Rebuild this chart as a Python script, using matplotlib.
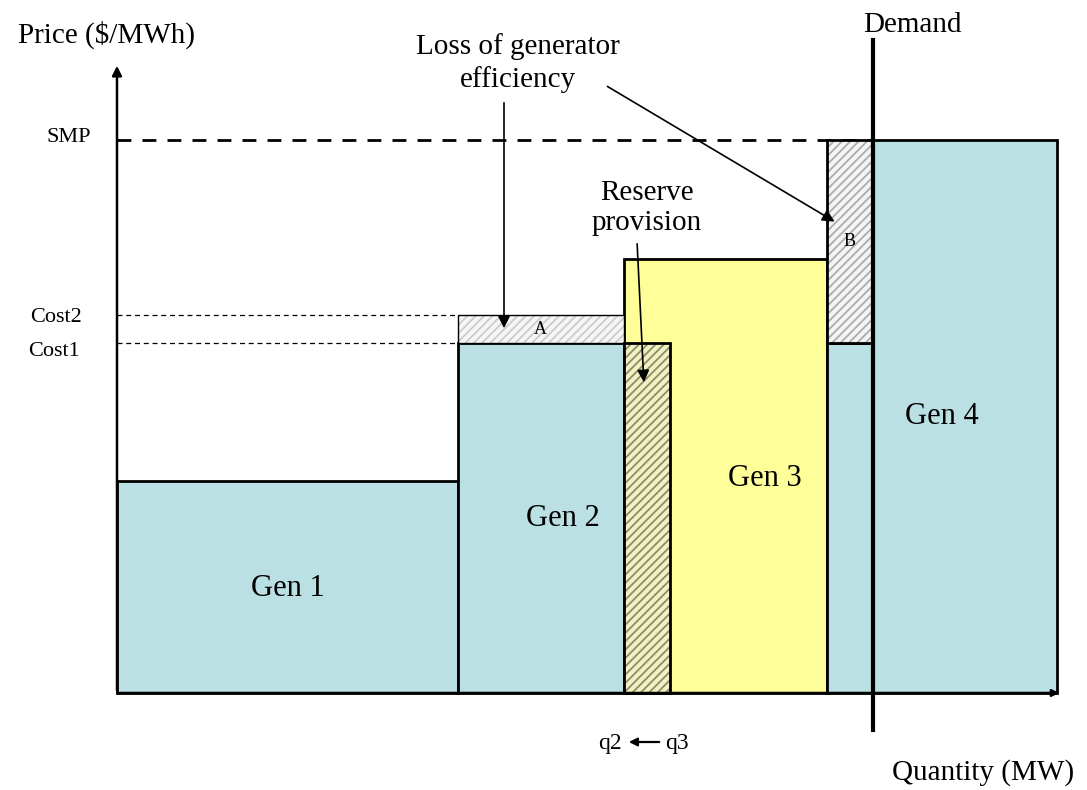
# Supply stack diagram: reserve provision and loss of generator efficiency
import matplotlib.pyplot as plt
from matplotlib.patches import Rectangle

plt.rcParams['font.family'] = ['Liberation Serif', 'DejaVu Serif']
plt.rcParams['hatch.linewidth'] = 1.3

# ── Data (quantity in MW-units, price in $/MWh-units of the diagram) ──────────
gen_names  = ["Gen 1", "Gen 2", "Gen 3", "Gen 4"]
gen_q0     = [0, 341, 507, 756]
gen_q1     = [341, 507, 710, 940]
gen_price  = [212, 350, 434, 553]
gen_colors = ["#bae0e3", "#bae0e3", "#ffff99", "#bae0e3"]

# Gen 4 dispatched below demand at Cost1 level
gen4_low_q  = [710, 756]
cost1       = 350
cost2       = 378
smp         = 553
demand_q    = 756

# hatched areas: (q0, q1, p0, p1)
area_A        = [341, 507, 350, 378]
area_B        = [710, 756, 350, 553]
area_reserve  = [507, 553, 0, 350]

fig = plt.figure(figsize=(10.87, 7.9), dpi=100)
ax = fig.add_axes([0, 0, 1, 1])
ax.set_xlim(-117, 970)
ax.set_ylim(-97, 693)
ax.axis("off")

# ── Generator blocks ──────────────────────────────────────────────────────────
for q0, q1, p, c in zip(gen_q0, gen_q1, gen_price, gen_colors):
    ax.add_patch(Rectangle((q0, 0), q1 - q0, p, facecolor=c,
                           edgecolor="black", linewidth=2, zorder=2))
ax.add_patch(Rectangle((gen4_low_q[0], 0), gen4_low_q[1] - gen4_low_q[0], cost1,
                       facecolor="#bae0e3", edgecolor="black", linewidth=2, zorder=2))

# ── Hatched areas ─────────────────────────────────────────────────────────────
def hatched(area, face, hcol, lw):
    q0, q1, p0, p1 = area
    ax.add_patch(Rectangle((q0, p0), q1 - q0, p1 - p0, facecolor=face,
                           edgecolor=hcol, hatch="////", linewidth=0, zorder=3))
    ax.add_patch(Rectangle((q0, p0), q1 - q0, p1 - p0, facecolor="none",
                           edgecolor="black", linewidth=lw, zorder=4))

hatched(area_A, "#f6f6f6", "#cccccc", 1.0)
hatched(area_B, "#f4f4f4", "#acacac", 2.0)
hatched(area_reserve, "#f2f2c0", "#8c8c6c", 2.0)

# ── Price levels ──────────────────────────────────────────────────────────────
ax.plot([0, demand_q], [smp, smp], color="black", lw=2, ls=(0, (5, 4)), zorder=1)
ax.plot([0, gen_q0[1]], [cost2, cost2], color="black", lw=0.9, ls=(0, (4, 3)), zorder=1)
ax.plot([0, gen_q0[1]], [cost1, cost1], color="black", lw=0.9, ls=(0, (4, 3)), zorder=1)

# ── Axes arrows and demand line ───────────────────────────────────────────────
ax.annotate("", xy=(0, 630), xytext=(0, 0),
            arrowprops=dict(arrowstyle="-|>", color="black", lw=1.8, mutation_scale=14))
ax.annotate("", xy=(945, 0), xytext=(0, 0),
            arrowprops=dict(arrowstyle="-|>", color="black", lw=1.8, mutation_scale=10),
            zorder=5)
ax.plot([demand_q, demand_q], [-37, 653], color="black", lw=3, zorder=6)

# ── Texts ─────────────────────────────────────────────────────────────────────
ax.text(-10, 658, "Price ($/MWh)", fontsize=21, ha="center", va="center")
ax.text(-48, 555, "SMP", fontsize=16, ha="center", va="center")
ax.text(-61, 375, "Cost2", fontsize=16, ha="center", va="center")
ax.text(-63, 341, "Cost1", fontsize=16, ha="center", va="center")
ax.text(866, -80, "Quantity (MW)", fontsize=21, ha="center", va="center")
ax.text(795, 668, "Demand", fontsize=21, ha="center", va="center")

# q2 <- q3 marker below the axis
ax.text(493, -50, "q2", fontsize=17, ha="center", va="center")
ax.text(560, -50, "q3", fontsize=17, ha="center", va="center")
ax.annotate("", xy=(509, -49), xytext=(545, -49),
            arrowprops=dict(arrowstyle="-|>", color="black", lw=1.6, mutation_scale=12))

label_pos = [(171, 105), (446, 175), (648, 215), (825, 277)]
for name, (x, y) in zip(gen_names, label_pos):
    ax.text(x, y, name, fontsize=22, ha="center", va="center", zorder=7)

ax.text(423, 364, "A", fontsize=13, ha="center", va="center", zorder=7)
ax.text(733, 451, "B", fontsize=13, ha="center", va="center", zorder=7)

ax.text(401, 630, "Loss of generator\nefficiency", fontsize=21, ha="center",
        va="center", linespacing=1.25)
ax.text(530, 485, "Reserve\nprovision", fontsize=21, ha="center",
        va="center", linespacing=1.25)

arrow = dict(arrowstyle="-|>", color="black", lw=1.2, mutation_scale=18)
ax.annotate("", xy=(387, 362), xytext=(387, 593), arrowprops=arrow, zorder=8)
ax.annotate("", xy=(720, 470), xytext=(488, 608), arrowprops=arrow, zorder=8)
ax.annotate("", xy=(527, 308), xytext=(520, 452), arrowprops=arrow, zorder=8)

fig.savefig("out.png", dpi=100)
